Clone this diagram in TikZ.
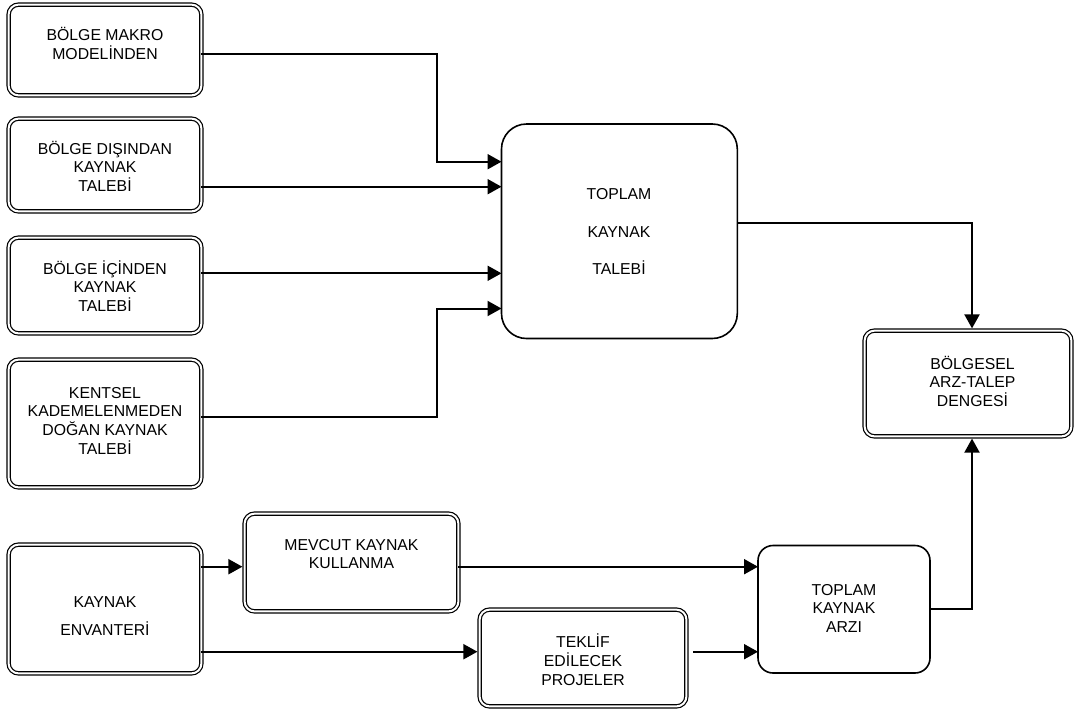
\documentclass[tikz,border=0pt]{standalone}
\usepackage{fontspec}
\setmainfont{Liberation Sans}
\usetikzlibrary{arrows.meta,calc}
\newcommand\firstln{\rule{0pt}{16pt}}
\tikzset{
  dbox/.style={draw=black, line width=1.2pt, double=white, double distance=2pt, rounded corners=10pt, inner sep=0pt, outer sep=0pt},
  sbox/.style={draw=black, line width=1.6pt, rounded corners=#1, inner sep=0pt, outer sep=0pt},
  txt/.style={anchor=north, inner sep=0pt, align=center, font=\fontsize{15.8}{18.6}\selectfont},
  conn/.style={line width=2pt, -{Triangle[length=14pt,width=15pt]}},
  seg/.style={line width=2pt}
}
\begin{document}
\begin{tikzpicture}[x=1pt,y=-1pt]
\useasboundingbox[fill=white] (0,0) rectangle (1075,713);

% double-bordered boxes
\node[dbox, minimum width=192.8pt, minimum height=90.8pt]  (B1)  at (105,50) {};
\node[dbox, minimum width=192.8pt, minimum height=92.8pt]  (B2)  at (105,165) {};
\node[dbox, minimum width=192.8pt, minimum height=95.8pt]  (B3)  at (105,285.5) {};
\node[dbox, minimum width=192.8pt, minimum height=127.8pt] (B4)  at (105,423.5) {};
\node[dbox, minimum width=192.8pt, minimum height=128.8pt] (ENV) at (105,609) {};
\node[dbox, minimum width=213.8pt, minimum height=97.8pt]  (MEV) at (351.5,562.5) {};
\node[dbox, minimum width=206.8pt, minimum height=96.8pt]  (TEK) at (583,658) {};
\node[dbox, minimum width=206.8pt, minimum height=105.8pt] (BOL) at (968,383.5) {};

% single-bordered boxes
\node[sbox=25pt, minimum width=235.8pt, minimum height=214.5pt] (TAL) at (619.4,231.25) {};
\node[sbox=15pt, minimum width=172pt, minimum height=127.5pt]   (ARZ) at (844,609.25) {};

% texts
\node[txt] (B1t)  at (105,24.65)   {\firstln BÖLGE MAKRO\\MODELİNDEN};
\node[txt] (B2t)  at (105,137.95)  {\firstln BÖLGE DIŞINDAN\\KAYNAK\\TALEBİ};
\node[txt] (B3t)  at (105,257.95)  {\firstln BÖLGE İÇİNDEN\\KAYNAK\\TALEBİ};
\node[txt] (B4t)  at (105,382.15)  {\firstln KENTSEL\\KADEMELENMEDEN\\DOĞAN KAYNAK\\TALEBİ};
\node[txt] (ENVt) at (105,590.85)  {\firstln KAYNAK\\[9.4pt]ENVANTERİ};
\node[txt] (MEVt) at (351.5,534.15){\firstln MEVCUT KAYNAK\\KULLANMA};
\node[txt] (TEKt) at (583,631.65)  {\firstln TEKLİF\\EDİLECEK\\PROJELER};
\node[txt] (TALt) at (619,183.35)  {\firstln TOPLAM\\[19pt]KAYNAK\\[19pt]TALEBİ};
\node[txt] (BOLt) at (972.5,352.95){\firstln BÖLGESEL\\ARZ-TALEP\\DENGESİ};
\node[txt] (ARZt) at (844,579.15)  {\firstln TOPLAM\\KAYNAK\\ARZI};

% connectors
\draw[conn] ($(B1.east)+(0,4)$) -- (437,54) |- (TAL.west |- 0,161.7);
\draw[conn] (B2.east |- 0,186.7) -- (TAL.west |- 0,186.7);
\draw[conn] (B3.east |- 0,273.3) -- (TAL.west |- 0,273.3);
\draw[conn] (B4.east |- 0,417.3) -- (437,417.3) |- (TAL.west |- 0,308.5);
\draw[conn] (TAL.east |- 0,223) -| ($(BOL.north)+(4,-2.2)$);
\draw[conn] (ARZ.east |- 0,609.3) -| ($(BOL.south)+(4,2.2)$);
\draw[conn] (ENV.east |- 0,566.7) -- ($(MEV.west |- 0,566.7)+(-2.2,0)$);
\draw[conn] (ENV.east |- 0,651.7) -- ($(TEK.west |- 0,651.7)+(-2.2,0)$);
\draw[conn] (MEV.east |- 0,566.7) -- (ARZ.west |- 0,566.7);
\draw[conn] ($(TEK.east |- 0,651.7)+(6.9,0)$) -- (ARZ.west |- 0,651.7);
\end{tikzpicture}
\end{document}
